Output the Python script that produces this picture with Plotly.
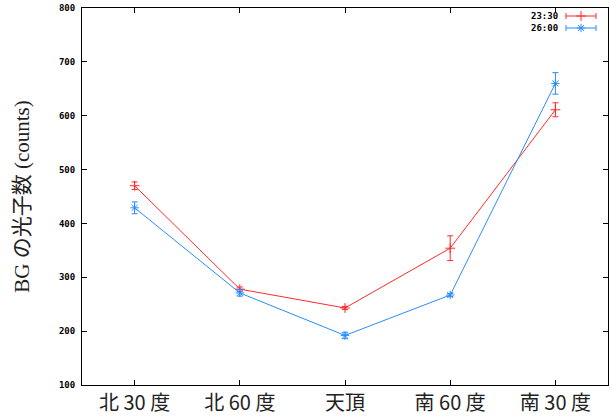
import plotly.graph_objects as go

categories = ["北 30 度", "北 60 度", "天頂", "南 60 度", "南 30 度"]
positions = [1, 2, 3, 4, 5]

series_2330 = [470, 278, 243, 354, 611]
err_2330 = [7, 4, 3, 23, 13]

series_2600 = [429, 271, 192, 267, 660]
err_2600 = [11, 6, 6, 3, 20]

y_ticks = [100, 200, 300, 400, 500, 600, 700, 800]

red = "#ff2a2a"
blue = "#2a8cff"

fig = go.Figure()

fig.add_trace(go.Scatter(
    x=positions, y=series_2330, mode="lines+markers",
    line=dict(color=red, width=1),
    marker=dict(symbol="cross-thin", size=7, color=red, line=dict(color=red, width=1)),
    error_y=dict(type="data", array=err_2330, color=red, thickness=1, width=3),
    showlegend=False,
))
fig.add_trace(go.Scatter(
    x=positions, y=series_2600, mode="lines+markers",
    line=dict(color=blue, width=1),
    marker=dict(symbol="asterisk", size=7, color=blue, line=dict(color=blue, width=1)),
    error_y=dict(type="data", array=err_2600, color=blue, thickness=1, width=3),
    showlegend=False,
))

# legend samples (gnuplot style: text then sample)
legend_names = ["23:30", "26:00"]
legend_colors = [red, blue]
legend_symbols = ["cross-thin", "asterisk"]
legend_rows = [16, 28]
for name, col, sym, yy in zip(legend_names, legend_colors, legend_symbols, legend_rows):
    fig.add_trace(go.Scatter(
        x=[581], y=[yy], mode="markers", xaxis="x2", yaxis="y2",
        marker=dict(symbol=sym, size=7, color=col, line=dict(color=col, width=1)),
        error_x=dict(type="constant", value=15, color=col, thickness=1, width=3),
        showlegend=False, hoverinfo="skip",
    ))
    fig.add_annotation(
        x=560, y=yy, xref="x2", yref="y2", text=name, showarrow=False,
        xanchor="right", yanchor="middle",
        font=dict(family="DejaVu Sans Mono", size=9, color="black", weight="bold"),
    )

fig.update_layout(
    width=610, height=418,
    margin=dict(l=82, r=2, t=8, b=33),
    paper_bgcolor="white", plot_bgcolor="white",
    xaxis=dict(
        range=[0.5, 5.5], tickmode="array", tickvals=positions, ticktext=categories,
        showline=True, linecolor="black", linewidth=1, mirror="ticks",
        ticks="inside", ticklen=5, tickcolor="black", showgrid=False, zeroline=False,
        automargin=False, ticklabelstandoff=0,
        tickfont=dict(family="Noto Sans CJK JP", size=20, color="#222"),
    ),
    yaxis=dict(
        range=[100, 800], tickmode="array", tickvals=y_ticks,
        showline=True, linecolor="black", linewidth=1, mirror="ticks",
        ticks="inside", ticklen=5, tickcolor="black", showgrid=False, zeroline=False,
        ticklabelstandoff=4, automargin=False,
        tickfont=dict(family="DejaVu Sans Mono", size=9, color="black", weight="bold"),
        title=dict(text="BG の光子数 (counts)", standoff=23,
                   font=dict(family="Liberation Serif, Noto Sans CJK JP", size=21, color="#222")),
    ),
    xaxis2=dict(overlaying="x", range=[82, 608], visible=False, fixedrange=True),
    yaxis2=dict(overlaying="y", range=[385, 8], visible=False, fixedrange=True),
)

fig.write_html("out.html", config={"displayModeBar": False},
               post_script="document.body.style.margin='0';")
